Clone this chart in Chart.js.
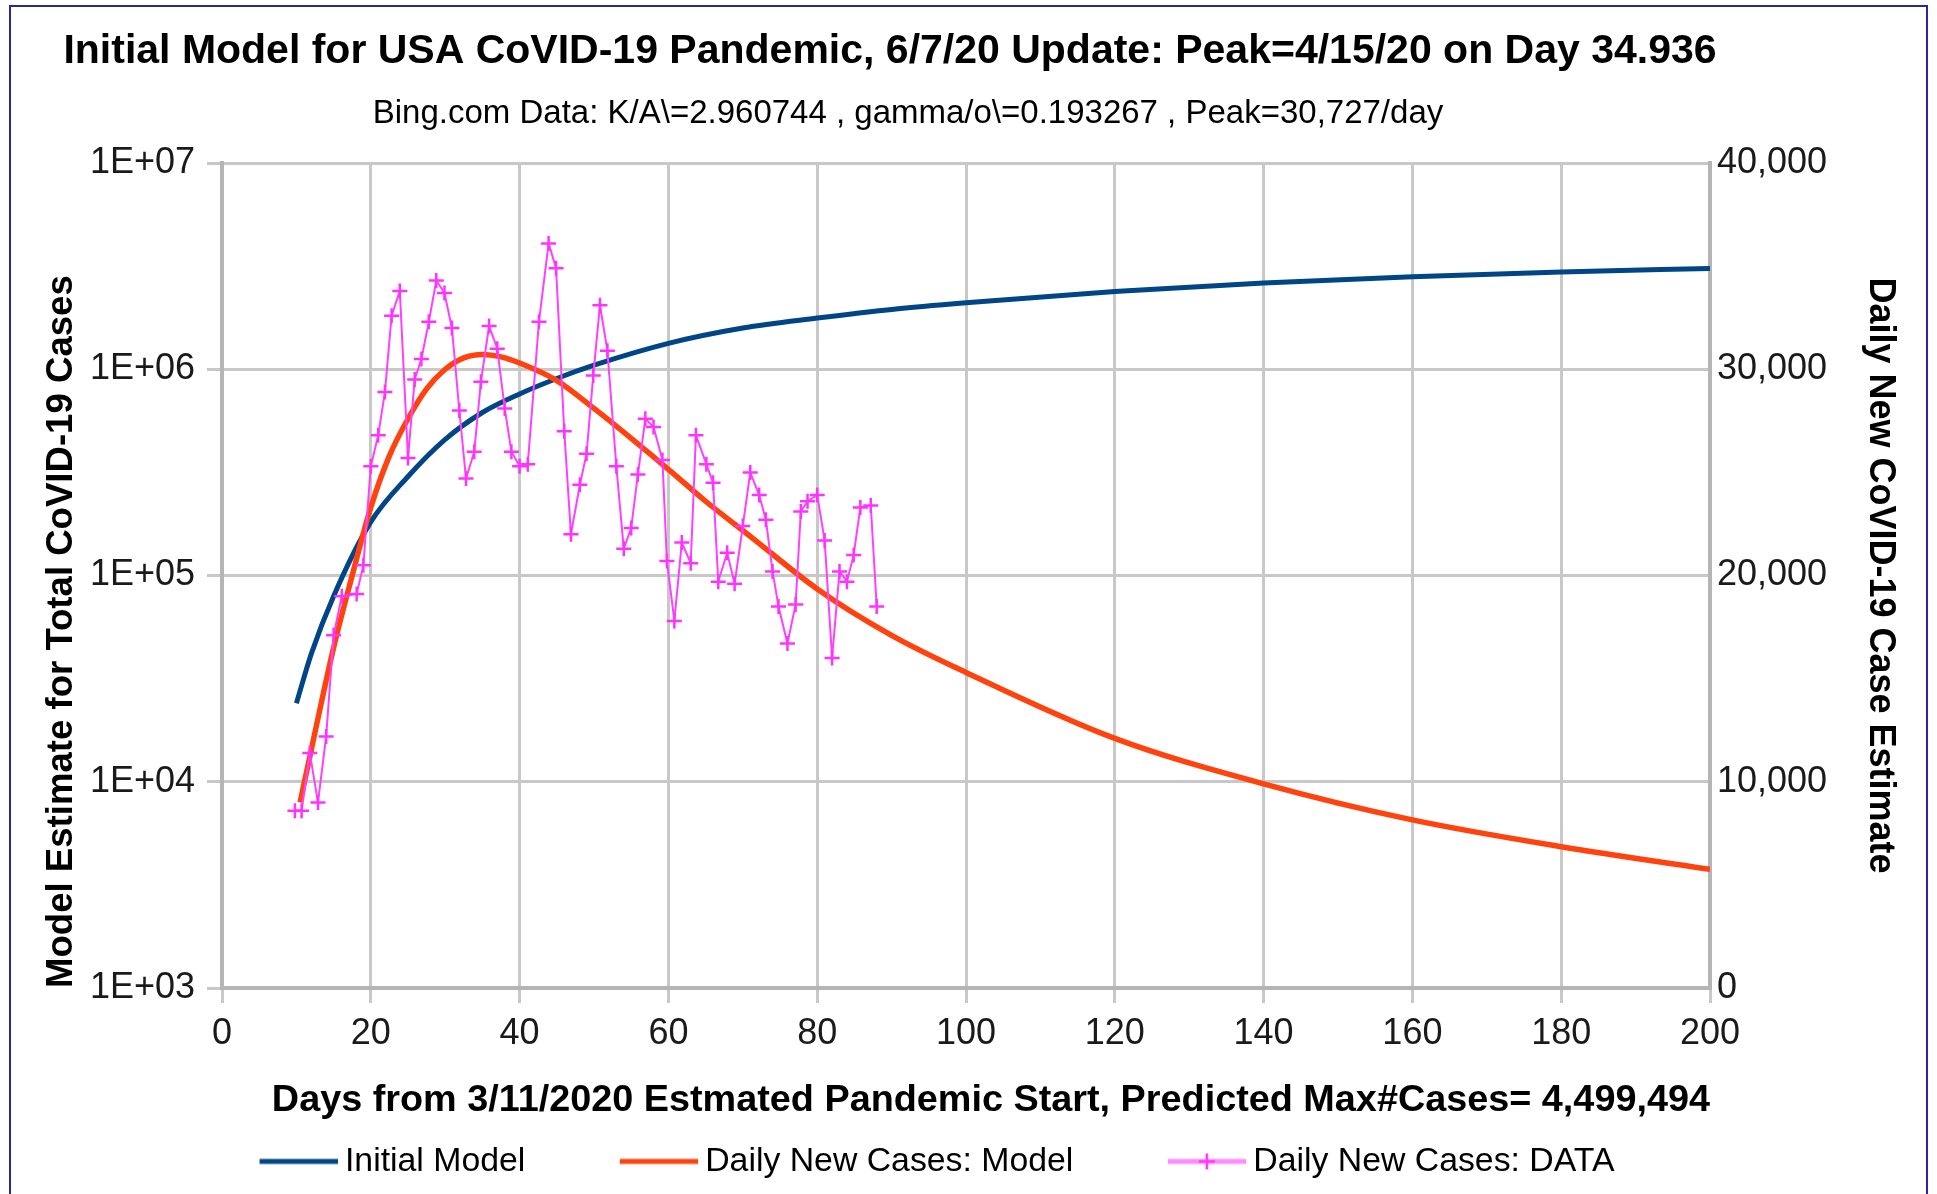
<!DOCTYPE html>
<html>
<head>
    <meta charset="utf-8" />
    <title>USA CoVID-19 initial model</title>
    <script src="https://cdn.jsdelivr.net/npm/chart.js@4.4.1/dist/chart.umd.min.js"></script>
    <style>
        html, body { margin: 0; padding: 0; background: #fff; overflow: hidden; }
        canvas { display: block; }
    </style>
</head>
<body>
    <canvas id="covidChart" width="1937" height="1194"></canvas>
<script>
    // values
    const totalDays = [10, 12, 15, 20, 25, 30, 35, 40, 45, 50, 60, 70, 80, 90, 100, 120, 140, 160, 180, 200];
    const totalModel = [24000, 41700, 79400, 182000, 302000, 457000, 617000, 759000, 902000, 1047000,
        1336000, 1585000, 1770000, 1950000, 2100000, 2380000, 2620000, 2810000, 2960000, 3080000];

    const dailyModelDays = [10.5, 12.5, 15, 17.5, 20, 22.5, 25, 27.5, 30, 32.5, 35, 37.5, 40, 45, 50, 55, 60, 65, 71,
        80, 90, 100, 120, 140, 160, 180, 200];
    const dailyModel = [9000, 12400, 16500, 20000, 23300, 25800, 27600, 29050, 30000, 30550, 30720, 30600, 30300, 29450, 28100, 26650, 25150, 23600, 21900,
        19350, 17100, 15300, 12100, 9900, 8150, 6850, 5750];

    const dataDays = [9.8, 10.7, 11.8, 12.9, 14, 15, 16.1, 18.1, 19, 20, 21, 21.9, 22.8, 23.9, 25, 25.9, 26.8, 27.8, 28.8, 29.9,
        30.9, 31.9, 32.8, 33.9, 34.8, 35.9, 37, 38, 38.9, 40, 41.1, 42.6, 43.9, 44.9, 46, 46.9, 48.1, 49, 49.9, 50.8,
        51.8, 53, 54, 55, 55.9, 56.9, 58, 59.2, 59.8, 60.8, 61.8, 63, 63.7, 65.1, 66, 66.7, 67.9, 68.9, 70, 71,
        72.2, 73.1, 74, 74.8, 76, 77.1, 77.8, 78.7, 80, 81, 82, 83, 84, 84.9, 85.8, 87.2, 88];
    const dailyData = [8600, 8600, 11400, 9000, 12200, 17100, 19000, 19100, 20500, 25300, 26800, 28900, 32600, 33800, 25700, 29500, 30500, 32300, 34300, 33700,
        32000, 28000, 24700, 26000, 29400, 32100, 31000, 28100, 26000, 25300, 25400, 32300, 36100, 34900, 27000, 22000, 24400, 25900, 29700, 33100,
        30900, 25300, 21300, 22300, 24900, 27600, 27200, 25600, 20700, 17800, 21600, 20600, 26800, 25400, 24500, 19700, 21100, 19600, 22400, 25000,
        23900, 22700, 20200, 18500, 16700, 18600, 23100, 23600, 23900, 21700, 16000, 20200, 19700, 21000, 23300, 23400, 18500];

    const dayTicks = [0, 20, 40, 60, 80, 100, 120, 140, 160, 180, 200];
    const leftTicks = [1000, 10000, 100000, 1000000, 10000000];
    const leftTickLabels = ['1E+03', '1E+04', '1E+05', '1E+06', '1E+07'];
    const rightTicks = [0, 10000, 20000, 30000, 40000];
    const rightTickLabels = ['0', '10,000', '20,000', '30,000', '40,000'];

    const seriesNames = ['Initial Model', 'Daily New Cases: Model', 'Daily New Cases: DATA'];

    const FONT = "'Liberation Sans', Arial, sans-serif";
    const pts = (xs, ys) => xs.map((x, i) => ({ x: x, y: ys[i] }));

    // line samples for the legend; the line sits to the right so the label follows closely
    function swatch(color, thick, crossColor) {
        const c = document.createElement('canvas');
        c.width = 94; c.height = 20;
        const g = c.getContext('2d');
        g.fillStyle = color;
        g.fillRect(16, 10 - thick / 2, 78, thick);
        if (crossColor) {
            g.strokeStyle = crossColor;
            g.lineWidth = 2.5;
            g.beginPath();
            g.moveTo(55, 2); g.lineTo(55, 18);
            g.moveTo(47, 10); g.lineTo(63, 10);
            g.stroke();
        }
        return c;
    }
    const swatches = [swatch('#004586', 5), swatch('#ff420e', 5), swatch('#ff8cff', 5, '#ff33ff')];

    // frame + the two header lines
    const frameAndTitles = {
        id: 'frameAndTitles',
        beforeDraw(chart) {
            const ctx = chart.ctx;
            ctx.save();
            ctx.strokeStyle = '#2727a3';
            ctx.lineWidth = 2;
            ctx.strokeRect(10, 6, 1917, 1210);
            ctx.restore();
        },
        afterDraw(chart) {
            const ctx = chart.ctx;
            ctx.save();
            ctx.fillStyle = '#000';
            ctx.textAlign = 'center';
            ctx.textBaseline = 'middle';
            ctx.font = 'bold 41px ' + FONT;
            ctx.fillText('Initial Model for USA CoVID-19 Pandemic, 6/7/20 Update: Peak=4/15/20 on Day 34.936', 890, 52);
            ctx.font = '33px ' + FONT;
            ctx.fillText('Bing.com Data: K/A\\=2.960744 , gamma/o\\=0.193267 , Peak=30,727/day', 908, 114);
            ctx.restore();
        }
    };

    // keep the legend short so the axis title sits above the items
    const legendHeight = {
        id: 'legendHeight',
        beforeInit(chart) {
            const fit = chart.legend.fit;
            chart.legend.fit = function () {
                fit.call(this);
                this.height = 137.5;
            };
        }
    };

    new Chart(document.getElementById('covidChart'), {
        type: 'line',
        data: {
            datasets: [{
                label: seriesNames[0],
                data: pts(totalDays, totalModel),
                yAxisID: 'y',
                borderColor: '#004586',
                borderWidth: 5,
                pointRadius: 0,
                cubicInterpolationMode: 'monotone',
                order: 3
            }, {
                label: seriesNames[1],
                data: pts(dailyModelDays, dailyModel),
                yAxisID: 'y2',
                borderColor: '#ff420e',
                borderWidth: 5.5,
                pointRadius: 0,
                cubicInterpolationMode: 'monotone',
                order: 2
            }, {
                label: seriesNames[2],
                data: pts(dataDays, dailyData),
                yAxisID: 'y2',
                borderColor: '#ff40ff',
                borderWidth: 2,
                pointStyle: 'cross',
                pointRadius: 7.5,
                pointBorderWidth: 2.5,
                pointBorderColor: '#ff33ff',
                tension: 0,
                order: 1
            }]
        },
        options: {
            responsive: false,
            animation: false,
            devicePixelRatio: 1,
            layout: { padding: { top: 163, left: 0, right: 69.5, bottom: 0 } },
            scales: {
                x: {
                    type: 'linear',
                    min: 0,
                    max: 200,
                    afterBuildTicks: (s) => { s.ticks = dayTicks.map(v => ({ value: v })); },
                    afterFit: (s) => { s.height = 68.5; },
                    grid: { color: '#c8c8c8', lineWidth: 3, tickLength: 15 },
                    border: { color: '#b5b5b5', width: 4 },
                    ticks: { color: '#1a1a1a', font: { family: FONT, size: 36 }, padding: 9.4, maxRotation: 0 },
                    title: {
                        display: true,
                        text: 'Days from 3/11/2020 Estmated Pandemic Start, Predicted Max#Cases= 4,499,494',
                        align: 'end',
                        color: '#000',
                        font: { family: FONT, size: 37.8, weight: 'bold' },
                        padding: { top: 0, bottom: -67.2 }
                    }
                },
                y: {
                    type: 'logarithmic',
                    position: 'left',
                    min: 1000,
                    max: 10000000,
                    afterBuildTicks: (s) => { s.ticks = leftTicks.map(v => ({ value: v })); },
                    afterFit: (s) => { s.width = 222; },
                    grid: { color: '#c8c8c8', lineWidth: 3, tickLength: 15 },
                    border: { color: '#b5b5b5', width: 4 },
                    ticks: {
                        color: '#1a1a1a',
                        font: { family: FONT, size: 36 },
                        padding: 12,
                        callback: (v) => leftTickLabels[leftTicks.indexOf(v)]
                    },
                    title: {
                        display: true,
                        text: 'Model Estimate for Total CoVID-19 Cases',
                        align: 'start',
                        color: '#000',
                        font: { family: FONT, size: 36.6, weight: 'bold' },
                        padding: { top: 40, bottom: 0 }
                    }
                },
                y2: {
                    type: 'linear',
                    position: 'right',
                    min: 0,
                    max: 40000,
                    afterBuildTicks: (s) => { s.ticks = rightTicks.map(v => ({ value: v })); },
                    afterFit: (s) => { s.width = 157.5; },
                    grid: { display: false, drawTicks: false },
                    border: { color: '#b5b5b5', width: 4 },
                    ticks: {
                        color: '#1a1a1a',
                        font: { family: FONT, size: 36 },
                        padding: 7,
                        callback: (v) => rightTickLabels[rightTicks.indexOf(v)]
                    },
                    title: {
                        display: true,
                        text: 'Daily New CoVID-19 Case Estimate',
                        color: '#000',
                        font: { family: FONT, size: 36, weight: 'bold' },
                        padding: { top: -34.1, bottom: 0 }
                    }
                }
            },
            plugins: {
                title: { display: false },
                tooltip: { enabled: false },
                legend: {
                    display: true,
                    position: 'bottom',
                    labels: {
                        usePointStyle: true,
                        pointStyleWidth: 75,
                        padding: 88,
                        color: '#000',
                        font: { family: FONT, size: 33.8 },
                        sort: (a, b) => a.datasetIndex - b.datasetIndex,
                        generateLabels(chart) {
                            const items = Chart.defaults.plugins.legend.labels.generateLabels(chart);
                            items.forEach(it => { it.pointStyle = swatches[it.datasetIndex]; });
                            return items;
                        }
                    }
                }
            }
        },
        plugins: [frameAndTitles, legendHeight]
    });
</script>
</body>
</html>
